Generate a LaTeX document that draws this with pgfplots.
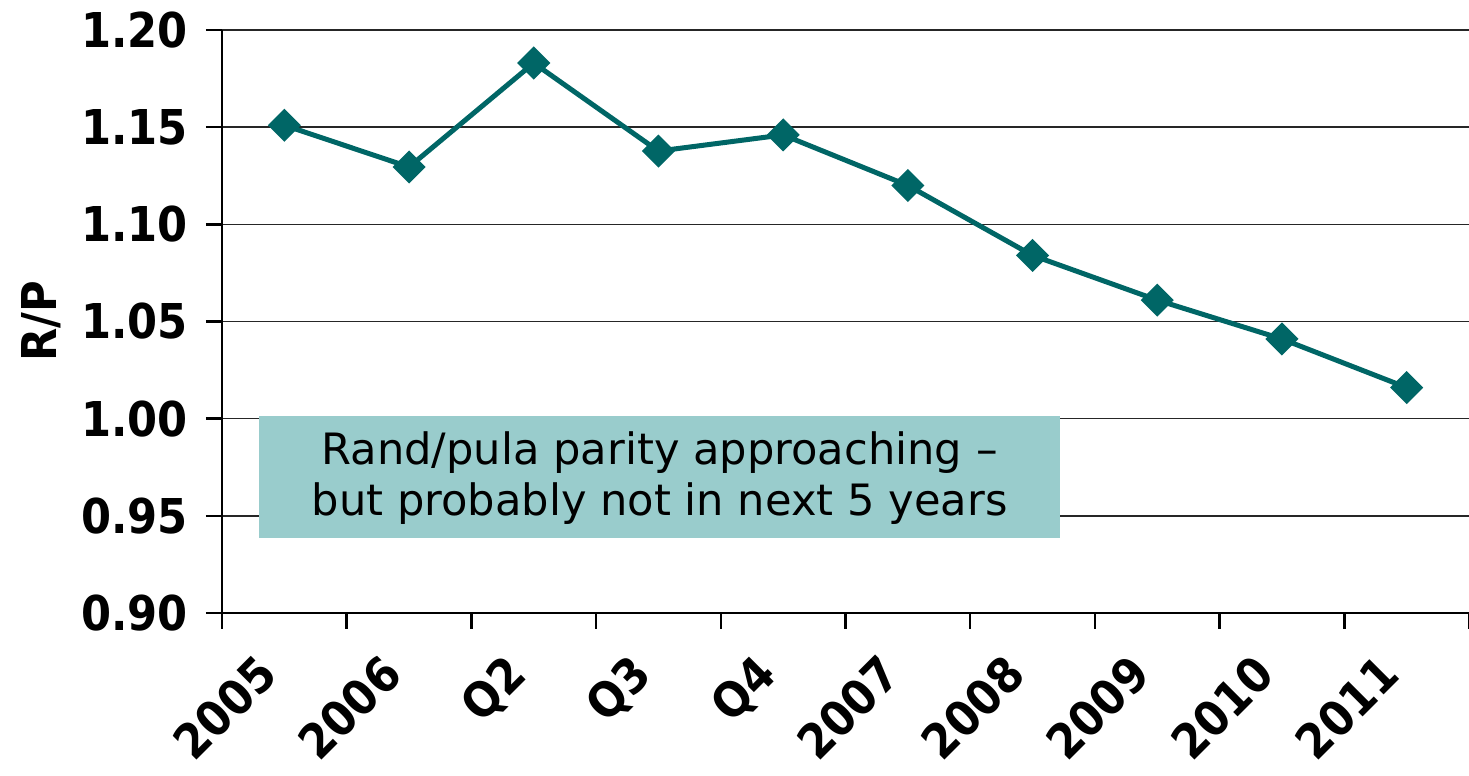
\documentclass[border=0pt]{standalone}
\usepackage{fontspec}
\setmainfont{DejaVu Sans}
\newfontfamily\condfont{DejaVu Sans Condensed}
\usepackage{pgfplots}
\usepackage{pgfplotstable}
\pgfplotsset{compat=1.18}
\definecolor{lineteal}{HTML}{006666}
\definecolor{boxfill}{HTML}{99CCCC}

% Rand/Pula exchange rate by period
\pgfplotstableread{
idx val
0 1.151
1 1.1295
2 1.183
3 1.1377
4 1.146
5 1.120
6 1.084
7 1.061
8 1.041
9 1.016
}\rptable

\begin{document}
\begin{tikzpicture}
\begin{axis}[
  scale only axis,
  width=623.5pt, height=291.5pt,
  xmin=-0.5, xmax=9.5,
  ymin=0.9, ymax=1.2,
  axis lines*=left,
  axis line style={line width=1.3pt, black},
  ytick={0.9,0.95,1.0,1.05,1.1,1.15,1.2},
  ymajorgrids,
  grid style={line width=0.8pt, black!85},
  xtick={0,...,9},
  xticklabels={2005,2006,Q2,Q3,Q4,2007,2008,2009,2010,2011},
  major x tick style={draw=none},
  minor xtick={-0.5,0.5,...,9.5},
  tick align=outside,
  major tick length=8pt, minor tick length=8pt,
  tick style={line width=1.2pt, black},
  ticklabel style={font=\condfont\bfseries\fontsize{24}{24}\selectfont},
  yticklabel style={/pgf/number format/.cd, fixed, fixed zerofill, precision=2,
    assume math mode=true, /tikz/xshift=-5.5pt},
  xticklabel style={rotate=45, anchor=north east, inner sep=0pt,
    xshift=-18.7pt, yshift=2.5pt},
  ylabel={R/P},
  ylabel style={font=\condfont\bfseries\fontsize{24}{24}\selectfont, yshift=3.5pt},
  clip=false,
]
\coordinate (bl) at (rel axis cs:0,0);
\coordinate (tr) at (rel axis cs:1,1);
\fill[boxfill] (axis cs:-0.203,0.9386) rectangle (axis cs:6.22,1.0014);
\node[align=center, font=\fontsize{21.6}{25.5}\selectfont] at (axis cs:3.0085,0.9695)
  {Rand/pula parity approaching –\\but probably not in next 5 years};
\addplot[color=lineteal, line width=2.5pt, mark=square*, mark size=4.6pt,
  mark options={rotate=45, solid}] table[x=idx, y=val] {\rptable};
\end{axis}
\pgfresetboundingbox
\path[use as bounding box] ([xshift=-111pt, yshift=-81.5pt]bl) rectangle ([yshift=15pt]tr);
\end{tikzpicture}
\end{document}
